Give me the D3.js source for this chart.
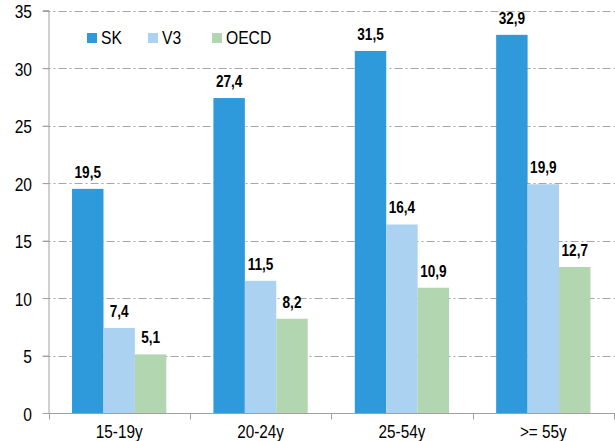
<!DOCTYPE html>
<html>
<head>
<meta charset="utf-8">
<script src="https://cdn.jsdelivr.net/npm/d3@7"></script>
<style>
  body { margin: 0; background: #fff; }
  text { font-family: "Liberation Sans", Arial, sans-serif; fill: #000; }
</style>
</head>
<body>
<div id="chart"></div>
<script>
//Categories and series values
var categories = ["15-19y", "20-24y", "25-54y", ">= 55y"];
var seriesNames = ["SK", "V3", "OECD"];
var valuesSK = [19.5, 27.4, 31.5, 32.9];
var valuesV3 = [7.4, 11.5, 16.4, 19.9];
var valuesOECD = [5.1, 8.2, 10.9, 12.7];
var yTicks = [0, 5, 10, 15, 20, 25, 30, 35];

var colors = ["#2e99db", "#acd2f1", "#b2d7b0"];

//svg sizes and margins
var width = 615, height = 441;
var margin = {top: 10.7, right: 1, bottom: 28, left: 48.5};

//The reference font is a narrow one: squeeze the regular font horizontally
var narrow = 0.83;
function squeeze(sel, s) {
  sel.each(function() {
    var t = d3.select(this);
    var tx = +t.attr("x") || 0, ty = +t.attr("y") || 0;
    t.attr("x", 0).attr("y", 0)
     .attr("transform", "translate(" + tx + "," + ty + ") scale(" + s + ",1)");
  });
}

var svg = d3.select("#chart").append("svg")
    .attr("width", width)
    .attr("height", height);

var x0 = d3.scaleBand()
    .domain(categories)
    .range([margin.left, width - margin.right])
    .paddingInner(0.333)
    .paddingOuter(0.1665);

var x1 = d3.scaleBand()
    .domain(seriesNames)
    .range([0, x0.bandwidth()]);

var y = d3.scaleLinear()
    .domain([0, 35])
    .range([height - margin.bottom, margin.top]);

//Gridlines (dash-dot)
svg.append("g")
  .selectAll("line")
  .data(yTicks.filter(function(d) { return d > 0; }))
  .enter().append("line")
  .attr("x1", margin.left - 6)
  .attr("x2", width)
  .attr("y1", function(d) { return Math.round(y(d)) + 0.5; })
  .attr("y2", function(d) { return Math.round(y(d)) + 0.5; })
  .attr("stroke", "#a6a6a6")
  .attr("stroke-width", 1)
  .attr("stroke-dasharray", "8,3,2,3");

//Bars
var data = categories.map(function(c, i) {
  return {cat: c, vals: [valuesSK[i], valuesV3[i], valuesOECD[i]]};
});

var groups = svg.append("g")
  .selectAll("g")
  .data(data)
  .enter().append("g")
  .attr("transform", function(d) { return "translate(" + x0(d.cat) + ",0)"; });

function rows(d) {
  return d.vals.map(function(v, j) { return {s: seriesNames[j], v: v, j: j}; });
}

groups.selectAll("rect")
  .data(rows)
  .enter().append("rect")
  .attr("x", function(d) { return x1(d.s); })
  .attr("y", function(d) { return y(d.v); })
  .attr("width", x1.bandwidth())
  .attr("height", function(d) { return y(0) - y(d.v); })
  .attr("fill", function(d) { return colors[d.j]; });

var valueLabels = groups.selectAll("text")
  .data(rows)
  .enter().append("text")
  .attr("x", function(d) { return x1(d.s) + x1.bandwidth() / 2; })
  .attr("y", function(d) { return y(d.v) - 11; })
  .attr("text-anchor", "middle")
  .style("font-size", "17px")
  .style("font-weight", "bold")
  .text(function(d) { return d3.format(".1f")(d.v).replace(".", ","); });
squeeze(valueLabels, 0.8);

//Y axis
var yAxis = svg.append("g")
  .attr("transform", "translate(" + (margin.left + 0.5) + ",0)")
  .call(d3.axisLeft(y).tickValues(yTicks).tickSize(6).tickPadding(11));
yAxis.select(".domain").attr("stroke", "#a0a0a0").attr("d", "M-6," + y(35) + "H0V" + y(0));
yAxis.selectAll(".tick line").attr("stroke", "#a0a0a0");
var yLabels = yAxis.selectAll("text")
  .attr("font-family", null)
  .attr("fill", null)
  .attr("dy", "0.37em")
  .style("font-size", "19px");
squeeze(yLabels, 0.82);

//X axis
var xAxis = svg.append("g")
  .attr("transform", "translate(0," + (Math.round(y(0)) + 0.5) + ")")
  .call(d3.axisBottom(x0).tickSize(0).tickPadding(12));
xAxis.select(".domain").attr("stroke", "#a0a0a0").attr("d", "M" + (margin.left - 6) + ",0H" + width);
var xLabels = xAxis.selectAll("text")
  .attr("font-family", null)
  .attr("fill", null)
  .attr("y", 24.5)
  .attr("dy", null)
  .style("font-size", "18px");
squeeze(xLabels, 0.85);

//Category separator ticks
var sep = d3.range(categories.length + 1).map(function(i) {
  return margin.left + i * x0.step();
});
xAxis.append("g")
  .selectAll("line")
  .data(sep)
  .enter().append("line")
  .attr("x1", function(d) { return Math.round(d) + 0.5; })
  .attr("x2", function(d) { return Math.round(d) + 0.5; })
  .attr("y1", 0)
  .attr("y2", 6)
  .attr("stroke", "#a0a0a0");

//Legend
var legendX = [87, 148, 212];
var legend = svg.append("g")
  .selectAll("g")
  .data(seriesNames)
  .enter().append("g")
  .attr("transform", function(d, i) { return "translate(" + legendX[i] + ",33)"; });

legend.append("rect")
  .attr("width", 10)
  .attr("height", 10)
  .attr("fill", function(d, i) { return colors[i]; });

var legendText = legend.append("text")
  .attr("x", 14)
  .attr("y", 11)
  .style("font-size", "18px")
  .text(function(d) { return d; });
squeeze(legendText, 0.87);
</script>
</body>
</html>
